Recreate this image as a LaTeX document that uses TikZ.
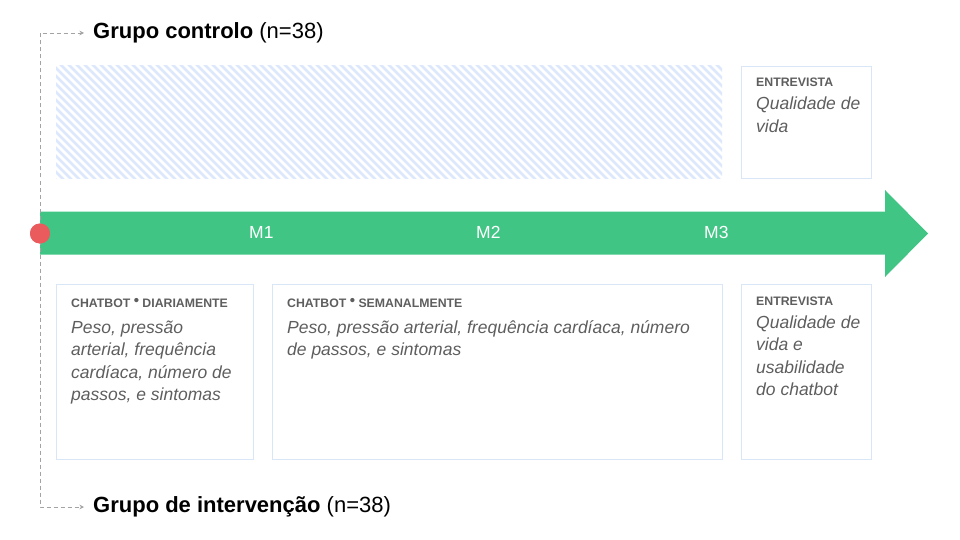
\documentclass[tikz,border=0pt]{standalone}
\usepackage{fontspec}
\setmainfont{Liberation Sans}
\usetikzlibrary{positioning,arrows.meta}

\definecolor{verde}{HTML}{41C584}
\definecolor{vermelho}{HTML}{EA5B5E}
\definecolor{borda}{HTML}{D9E6F8}
\definecolor{risca}{HTML}{DDE8FC}
\definecolor{cinza}{HTML}{5E5E5E}
\definecolor{tracejado}{HTML}{A3A3A3}

\begin{document}
\begin{tikzpicture}[x=1pt,y=-1pt]
\tikzset{caixa/.style={draw=borda,line width=0.8pt,anchor=north west,inner sep=0pt},
cabecalho/.style={anchor=base west,inner sep=0pt,text=cinza,font=\fontsize{12.3}{14}\selectfont\bfseries},
% o "base" de um no com varias linhas fica na ultima linha
corpo/.style={anchor=base west,inner sep=0pt,align=left,text=cinza,font=\fontsize{17.5}{22.5}\selectfont\itshape},
marco/.style={anchor=base west,inner sep=0pt,text=white,font=\fontsize{17.5}{20}\selectfont},
titulo/.style={anchor=west,inner ysep=0pt,inner xsep=9pt,font=\fontsize{22}{26}\selectfont},
ligacao/.style={-{Stealth[length=4.5pt,width=4.5pt]},draw=tracejado,line width=0.8pt,dash pattern=on 4pt off 3pt}}
\newcommand{\ponto}{\raisebox{1.5pt}{\fontsize{15}{15}\selectfont•}}
\useasboundingbox (0,0) rectangle (960,540);

% grupo controlo : periodo sem chatbot
\begin{scope}
\clip (56,66) rectangle (722,179);
\foreach \a in {-64,-56,...,724}
  \draw[risca,line width=2.8pt] (\a,60) -- ++(125,125);
\end{scope}
\node[caixa,minimum width=130,minimum height=112] (ent1) at (741,66) {};
\node[cabecalho] (cabent1) at (756,87) {ENTREVISTA};
\node[corpo] (txtent1) at (756,132.5) {Qualidade de\\vida};

% linha do tempo
\fill[verde] (40,211.5) -- (885,211.5) -- (885,190) -- (928,233.5)
  -- (885,277) -- (885,254.5) -- (40,254.5) -- cycle;
\node[circle,fill=vermelho,minimum size=20,inner sep=0pt] (inicio) at (40,233.5) {};
\node[marco] (m1) at (249,238.5) {M1};
\node[marco] (m2) at (476,238.5) {M2};
\node[marco] (m3) at (704,238.5) {M3};

% grupo de intervencao
\node[caixa,minimum width=197,minimum height=175] (diario) at (56,284) {};
\node[cabecalho] (cabdiario) at (71,307) {CHATBOT \ponto{} DIARIAMENTE};
\node[corpo] (txtdiario) at (71,400.5) {Peso, pressão\\arterial, frequência\\cardíaca, número de\\passos, e sintomas};

\node[caixa,minimum width=450,minimum height=175] (semanal) at (272,284) {};
\node[cabecalho] (cabsemanal) at (287,307) {CHATBOT \ponto{} SEMANALMENTE};
\node[corpo] (txtsemanal) at (287,355.5) {Peso, pressão arterial, frequência cardíaca, número\\de passos, e sintomas};

\node[caixa,minimum width=130,minimum height=175] (ent2) at (741,284) {};
\node[cabecalho] (cabent2) at (756,305) {ENTREVISTA};
\node[corpo] (txtent2) at (756,395.5) {Qualidade de\\vida e\\usabilidade\\do chatbot};

% grupos
\node[titulo] (gc) at (84,33) {\textbf{Grupo controlo} (n=38)};
\node[titulo] (gi) at (84,507) {\textbf{Grupo de intervenção} (n=38)};
\draw[ligacao] (inicio.center) |- (gc.west);
\draw[ligacao] (inicio.center) |- (gi.west);
\fill[vermelho] (inicio) circle (10);
\end{tikzpicture}
\end{document}
